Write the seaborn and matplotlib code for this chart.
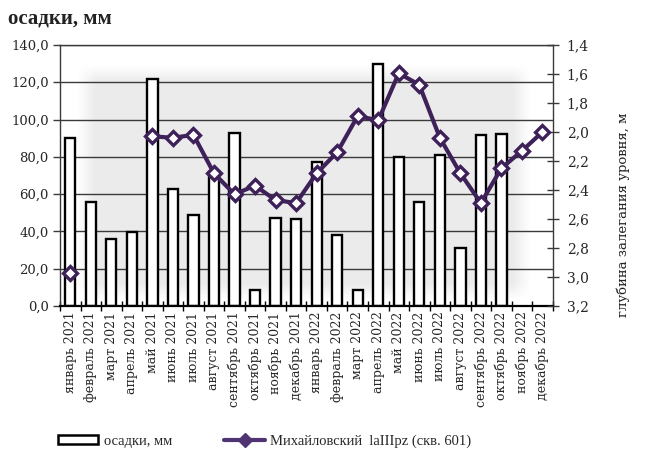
import numpy as np
import pandas as pd
import matplotlib
matplotlib.use("Agg")
import matplotlib.pyplot as plt
import seaborn as sns
from matplotlib.ticker import FuncFormatter, FixedLocator
from matplotlib.patches import Patch
from matplotlib.lines import Line2D

# --- data -------------------------------------------------------------
months = [
    "январь 2021", "февраль 2021", "март 2021", "апрель 2021", "май 2021",
    "июнь 2021", "июль 2021", "август 2021", "сентябрь 2021", "октябрь 2021",
    "ноябрь 2021", "декабрь 2021", "январь 2022", "февраль 2022", "март 2022",
    "апрель 2022", "май 2022", "июнь 2022", "июль 2022", "август 2022",
    "сентябрь 2022", "октябрь 2022", "ноябрь 2022", "декабрь 2022",
]
precip_mm = [90.0, 56.0, 36.0, 39.5, 121.5, 63.0, 49.0, 72.0, 93.0, 8.5,
             47.0, 46.5, 77.0, 38.0, 8.5, 130.0, 80.0, 56.0, 81.0, 31.0,
             91.5, 92.0, np.nan, np.nan]
depth_m = [2.97, np.nan, np.nan, np.nan, 2.03, 2.04, 2.02, 2.285, 2.43, 2.37,
           2.47, 2.49, 2.285, 2.14, 1.89, 1.92, 1.595, 1.675, 2.04, 2.285,
           2.49, 2.25, 2.13, 2.00]

left_ticks = [0, 20, 40, 60, 80, 100, 120, 140]
right_ticks = [1.4, 1.6, 1.8, 2.0, 2.2, 2.4, 2.6, 2.8, 3.0, 3.2]

bar_label = "осадки, мм"
well_label = "Михайловский  laIIIpz (скв. 601)"
right_axis_label = "глубина залегания уровня, м"

# --- style ------------------------------------------------------------
sns.set_theme(style="white")
plt.rcParams["font.family"] = ["DejaVu Serif"]
purple = "#3d2158"
grid_col = "#3a3a3a"

df = pd.DataFrame({"month": months, "precip": precip_mm,
                   "depth": depth_m, "pos": np.arange(len(months))})

fig = plt.figure(figsize=(6.45, 4.62), dpi=100)
ax = fig.add_axes([0.093, 0.3377, 0.764, 0.565])

# soft grey panel behind the bars
ny, nx = 200, 400
u = np.linspace(0, 1, nx)
v = np.linspace(0, 1, ny)
ramp_x = np.clip(np.minimum(u, 1 - u) / 0.04, 0, 1)
ramp_y = np.clip(np.minimum(v, 1 - v) / 0.07, 0, 1)
alpha = np.outer(ramp_y, ramp_x)
panel = np.zeros((ny, nx, 4))
panel[..., :3] = 0.925
panel[..., 3] = alpha
ax.imshow(panel, extent=(0.35, 22.45, 3, 129), aspect="auto",
          zorder=0, interpolation="bilinear")

# precipitation bars
sns.barplot(data=df, x="month", y="precip", order=months, ax=ax,
            color="white", edgecolor="black", linewidth=1.7,
            width=0.5, saturation=1, zorder=2)

ax.set_xlim(-0.5, len(months) - 0.5)
ax.set_ylim(0, 140)
ax.yaxis.set_major_locator(FixedLocator(left_ticks))
ax.yaxis.set_major_formatter(FuncFormatter(lambda val, _: f"{val:.1f}".replace(".", ",")))
ax.set_xlabel("")
ax.set_ylabel("")
for t in left_ticks[1:]:
    ax.axhline(t, color=grid_col, lw=1.0, zorder=1)

ax.set_xticks(np.arange(len(months)))
ax.set_xticklabels(months, rotation=90, fontsize=9)
ax.set_xticks(np.arange(len(months) + 1) - 0.5, minor=True)
ax.tick_params(axis="x", which="major", length=0, pad=4)
ax.tick_params(axis="x", which="minor", length=7, direction="inout",
               width=1, color="black", bottom=True)
ax.tick_params(axis="y", which="major", length=5, direction="out",
               width=1, color=grid_col, labelsize=9.5, left=True, pad=3)
for side in ["left", "top", "right"]:
    ax.spines[side].set_color(grid_col)
    ax.spines[side].set_linewidth(1.0)
ax.spines["bottom"].set_color("black")
ax.spines["bottom"].set_linewidth(1.6)

# groundwater level on the secondary axis
ax2 = ax.twinx()
seg_id = df["depth"].isna().cumsum()
for _, seg in df[df["depth"].notna()].groupby(seg_id[df["depth"].notna()]):
    sns.lineplot(data=seg, x="pos", y="depth", ax=ax2, color=purple,
                 lw=3, marker="D", markersize=7, markerfacecolor="white",
                 markeredgecolor=purple, markeredgewidth=2.4, zorder=5)
ax2.set_ylim(3.2, 1.4)
ax2.set_xlim(-0.5, len(months) - 0.5)
ax2.yaxis.set_major_locator(FixedLocator(right_ticks))
ax2.yaxis.set_major_formatter(FuncFormatter(lambda val, _: f"{val:.1f}".replace(".", ",")))
ax2.tick_params(axis="y", which="major", length=8, direction="inout",
                width=1, color=grid_col, labelsize=10, right=True, pad=6)
ax2.set_xlabel("")
ax2.set_ylabel("")
for side in ax2.spines:
    ax2.spines[side].set_visible(False)

fig.text(0.966, 0.535, right_axis_label, rotation=90, ha="center",
         va="center", fontsize=9.5, color="#222222")
fig.text(0.012, 0.96, bar_label, fontsize=15, fontweight="bold",
         family="Liberation Serif", va="center", ha="left", color="#222222")

handles = [
    Patch(facecolor="white", edgecolor="black", linewidth=1.8),
    Line2D([], [], color="#4f3471", lw=3, marker="D", markersize=7,
           markerfacecolor="#4f3471", markeredgecolor="#4f3471"),
]
fig.legend(handles, [bar_label, well_label], loc="center",
           bbox_to_anchor=(0.41, 0.045), ncol=2, frameon=False,
           prop={"family": "Liberation Serif", "size": 10.5},
           handlelength=2.8, handleheight=0.55, columnspacing=3.6,
           handletextpad=0.35)

fig.savefig("out.png", dpi=100)
